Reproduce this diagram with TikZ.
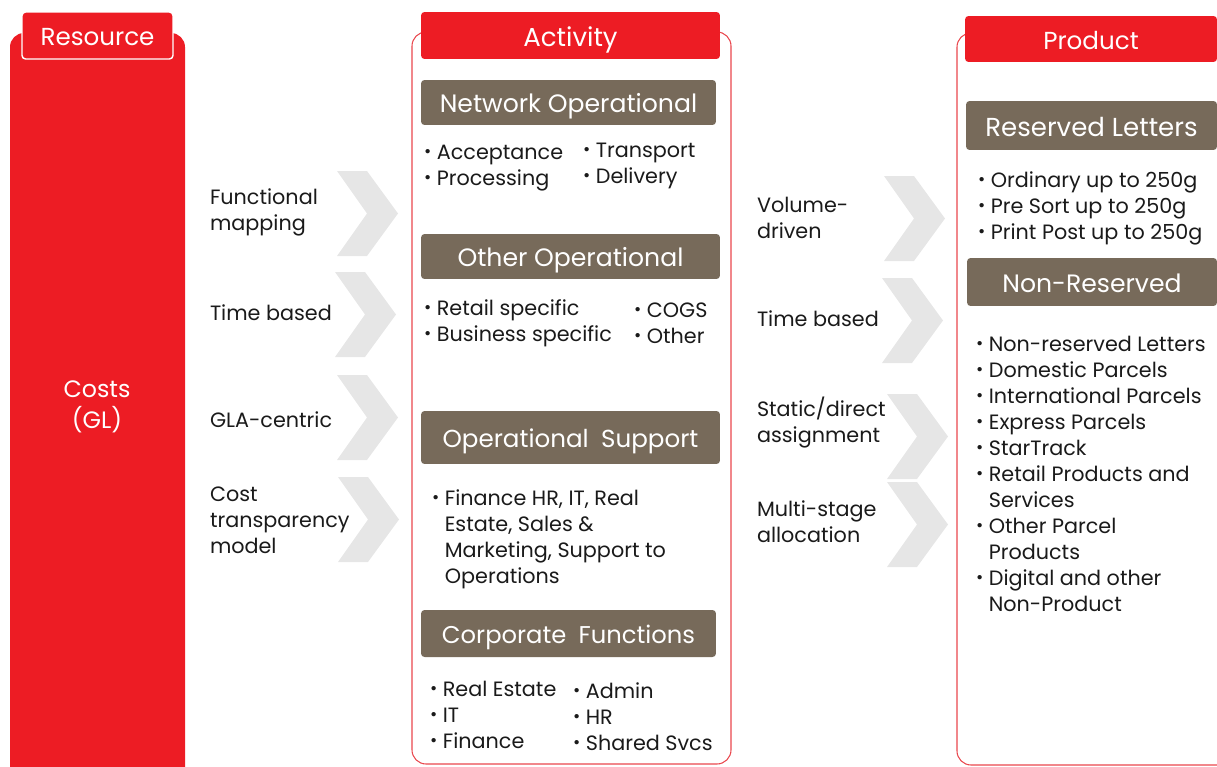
\documentclass[tikz,border=0pt]{standalone}
\usepackage{fontspec}
\setmainfont{Poppins}
\usetikzlibrary{positioning}

\definecolor{apred}{HTML}{ED1C24}
\definecolor{apbrown}{HTML}{776A5A}
\definecolor{apgrey}{HTML}{E6E6E6}
\definecolor{apline}{HTML}{E9474D}
\definecolor{apink}{HTML}{1A1A1A}
\newcommand{\bul}{\makebox[0.62em][l]{\raisebox{0.1em}{\fontsize{10}{10}\selectfont\textbullet}}}
\newcommand{\ind}{\hspace*{0.62em}}

\begin{document}
\begin{tikzpicture}[
                x=0.02cm, y=-0.02cm,
                every node/.append style={inner sep=0pt, outer sep=0pt},
                tab/.style={fill=apred, rounded corners=2pt, text=white, font=\fontsize{14}{16}\selectfont},
                bar/.style={fill=apbrown, rounded corners=2pt, text=white, font=\fontsize{14.3}{16}\selectfont},
                lbl/.style={text=white, anchor=base},
                item/.style={anchor=west, align=left, text=apink, font=\fontsize{11.8}{14.8}\selectfont},
                chev/.pic={\fill[apgrey] (0,0) -- (30,0) -- (61,42.5) -- (30,85) -- (0,85) -- (30,42.5) -- cycle;}
            ]
                \useasboundingbox (0,0) rectangle (1217,767);
                % resource column
                \fill[apred, rounded corners=8pt] (10,33) rectangle (185,800);
                \node (res) [tab, draw=white, line width=0.8pt, minimum width=3.02cm, minimum height=0.94cm] at (97.5,35.5) {};
                \node (resT) [lbl, font=\fontsize{14}{16}\selectfont] at (97.5,45.5) {Resource};
                \node (costs) [align=center, text=white, font=\fontsize{13.5}{17.5}\selectfont] at (97,407) {Costs\\(GL)};
                % resource to activity
                \node (fm)  [item] at (210,212) {Functional\\mapping};
                \node (tb)  [item] at (210,313) {Time based};
                \node (gla) [item] at (210,420) {GLA-centric};
                \node (ctm) [item] at (210,520) {Cost\\transparency\\model};
                \pic at (337,171) {chev};
                \pic at (335,272) {chev};
                \pic at (337,375) {chev};
                \pic at (338,477) {chev};
                % activity column
                \draw[apline, line width=0.6pt, rounded corners=8pt] (412,32) rectangle (731,764);
                \node (act)   [tab, minimum width=5.98cm, minimum height=0.94cm] at (570.5,35.5) {};
                \node (actT)  [lbl, font=\fontsize{14.8}{16}\selectfont] at (570.5,47) {Activity};
                \node (netop) [bar, minimum width=5.9cm, minimum height=0.9cm] at (568.5,102.5) {};
                \node (netopT) [lbl, font=\fontsize{14.3}{16}\selectfont] at (568.5,112.5) {Network Operational};
                \node (acc)   [item] at (424,168) {\bul Acceptance\\\bul Processing};
                \node (trn)   [item] at (583,166) {\bul Transport\\\bul Delivery};
                \node (othop) [bar, minimum width=5.98cm, minimum height=0.9cm] at (570.5,256.5) {};
                \node (othopT) [lbl, font=\fontsize{14.3}{16}\selectfont] at (570.5,266.5) {Other Operational};
                \node (ret)   [item] at (424,323) {\bul Retail specific\\\bul Business specific};
                \node (cogs)  [item] at (634,323) {\bul COGS\\\bul Other};
                \node (opsup) [bar, minimum width=5.98cm, minimum height=1.06cm] at (570.5,437.5) {};
                \node (opsupT) [lbl, font=\fontsize{14}{16}\selectfont] at (570.5,447.5) {Operational\enspace Support};
                \node (fin)   [item] at (432,539) {\bul Finance HR, IT, Real\\\ind Estate, Sales \&\\\ind Marketing, Support to\\\ind Operations};
                \node (corp)  [bar, minimum width=5.9cm, minimum height=0.94cm] at (568.5,633.5) {};
                \node (corpT) [lbl, font=\fontsize{13.8}{16}\selectfont] at (568.5,643.5) {Corporate\enspace Functions};
                \node (reale) [item] at (430,715) {\bul Real Estate\\\bul IT\\\bul Finance};
                \node (adm)   [item] at (573,717) {\bul Admin\\\bul HR\\\bul Shared Svcs};
                % activity to product
                \node (vd)  [item] at (757,218) {Volume-\\driven};
                \node (tb2) [item] at (757,319) {Time based};
                \node (sda) [item] at (757,423) {Static/direct\\assignment};
                \node (msa) [item] at (757,522) {Multi-stage\\allocation};
                \pic at (884,176) {chev};
                \pic at (882,278) {chev};
                \pic at (887,394) {chev};
                \pic at (887,482) {chev};
                % product column
                \draw[apline, line width=0.6pt, rounded corners=8pt] (957,33) rectangle (1260,765);
                \node (prod)  [tab, minimum width=5.04cm, minimum height=0.92cm] at (1091,39) {};
                \node (prodT) [lbl, font=\fontsize{14}{16}\selectfont] at (1091,49.5) {Product};
                \node (resl)  [bar, minimum width=5.02cm, minimum height=0.98cm] at (1091.5,125.5) {};
                \node (reslT) [lbl, font=\fontsize{14.8}{16}\selectfont] at (1091.5,136) {Reserved Letters};
                \node (ord)   [item] at (978,208) {\bul Ordinary up to 250g\\\bul Pre Sort up to 250g\\\bul Print Post up to 250g};
                \node (nonr)  [bar, minimum width=5.0cm, minimum height=0.96cm] at (1092,282) {};
                \node (nonrT) [lbl, font=\fontsize{14.3}{16}\selectfont] at (1092,292) {Non-Reserved};
                \node (plist) [item, anchor=north west] at (976,336) {\bul Non-reserved Letters\\\bul Domestic Parcels\\\bul International Parcels\\\bul Express Parcels\\\bul StarTrack\\\bul Retail Products and\\\ind Services\\\bul Other Parcel\\\ind Products\\\bul Digital and other\\\ind Non-Product};
            \end{tikzpicture}
\end{document}
